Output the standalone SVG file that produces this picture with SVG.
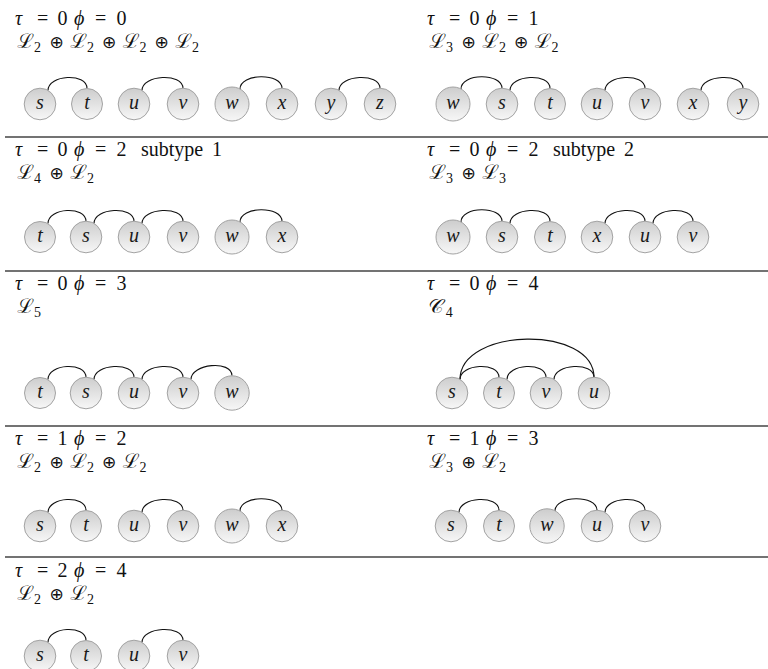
<svg xmlns="http://www.w3.org/2000/svg" width="768" height="669" viewBox="0 0 768 669">
<defs>
<linearGradient id="g" x1="0" y1="0" x2="0" y2="1">
<stop offset="0" stop-color="#cdcdcd"/>
<stop offset="1" stop-color="#f7f7f7"/>
</linearGradient>
</defs>
<style>
.node circle{fill:url(#g);stroke:#a3a3a3;stroke-width:1}
.node text{font-style:italic;font-size:20px;text-anchor:middle;fill:#1a1a1a}
.hdr{font-size:20px;fill:#111}
.it{font-style:italic}
.sub{font-size:14px}
.op{font-size:17px}
.sep{stroke:#444;stroke-width:1.3}
.edge{fill:none;stroke:#111;stroke-width:1.1}
</style>
<rect width="768" height="669" fill="#fff"/>

<g id="separators">
<line class="sep" x1="5" y1="137" x2="768" y2="137"/>
<line class="sep" x1="5" y1="271" x2="768" y2="271"/>
<line class="sep" x1="5" y1="426" x2="768" y2="426"/>
<line class="sep" x1="5" y1="557" x2="768" y2="557"/>
</g>

<g id="labels" font-family="Liberation Serif, serif">
<text class="hdr" y="25"><tspan x="15" class="it">τ</tspan><tspan x="36.9">=</tspan><tspan x="57.5">0</tspan><tspan x="74" class="it">ϕ</tspan><tspan x="94.9">=</tspan><tspan x="116.5">0</tspan></text>
<text class="hdr" y="48"><tspan x="17" font-family="Noto Sans Math, Liberation Serif, serif">ℒ</tspan><tspan class="sub" dy="4">2</tspan><tspan x="49.5" dy="-4" class="op" font-family="DejaVu Sans">⊕</tspan><tspan x="70" font-family="Noto Sans Math, Liberation Serif, serif">ℒ</tspan><tspan class="sub" dy="4">2</tspan><tspan x="102" dy="-4" class="op" font-family="DejaVu Sans">⊕</tspan><tspan x="122.5" font-family="Noto Sans Math, Liberation Serif, serif">ℒ</tspan><tspan class="sub" dy="4">2</tspan><tspan x="154.5" dy="-4" class="op" font-family="DejaVu Sans">⊕</tspan><tspan x="175" font-family="Noto Sans Math, Liberation Serif, serif">ℒ</tspan><tspan class="sub" dy="4">2</tspan></text>
<text class="hdr" y="25"><tspan x="427" class="it">τ</tspan><tspan x="448.9">=</tspan><tspan x="469.5">0</tspan><tspan x="486" class="it">ϕ</tspan><tspan x="506.9">=</tspan><tspan x="528.5">1</tspan></text>
<text class="hdr" y="48"><tspan x="429" font-family="Noto Sans Math, Liberation Serif, serif">ℒ</tspan><tspan class="sub" dy="4">3</tspan><tspan x="461.5" dy="-4" class="op" font-family="DejaVu Sans">⊕</tspan><tspan x="482" font-family="Noto Sans Math, Liberation Serif, serif">ℒ</tspan><tspan class="sub" dy="4">2</tspan><tspan x="514" dy="-4" class="op" font-family="DejaVu Sans">⊕</tspan><tspan x="534.5" font-family="Noto Sans Math, Liberation Serif, serif">ℒ</tspan><tspan class="sub" dy="4">2</tspan></text>

<text class="hdr" y="156"><tspan x="15" class="it">τ</tspan><tspan x="36.9">=</tspan><tspan x="57.5">0</tspan><tspan x="74" class="it">ϕ</tspan><tspan x="94.9">=</tspan><tspan x="116.5">2</tspan><tspan x="141">subtype</tspan><tspan x="212">1</tspan></text>
<text class="hdr" y="179"><tspan x="17" font-family="Noto Sans Math, Liberation Serif, serif">ℒ</tspan><tspan class="sub" dy="4">4</tspan><tspan x="49.5" dy="-4" class="op" font-family="DejaVu Sans">⊕</tspan><tspan x="70" font-family="Noto Sans Math, Liberation Serif, serif">ℒ</tspan><tspan class="sub" dy="4">2</tspan></text>
<text class="hdr" y="156"><tspan x="427" class="it">τ</tspan><tspan x="448.9">=</tspan><tspan x="469.5">0</tspan><tspan x="486" class="it">ϕ</tspan><tspan x="506.9">=</tspan><tspan x="528.5">2</tspan><tspan x="553">subtype</tspan><tspan x="624">2</tspan></text>
<text class="hdr" y="179"><tspan x="429" font-family="Noto Sans Math, Liberation Serif, serif">ℒ</tspan><tspan class="sub" dy="4">3</tspan><tspan x="461.5" dy="-4" class="op" font-family="DejaVu Sans">⊕</tspan><tspan x="482" font-family="Noto Sans Math, Liberation Serif, serif">ℒ</tspan><tspan class="sub" dy="4">3</tspan></text>

<text class="hdr" y="290"><tspan x="15" class="it">τ</tspan><tspan x="36.9">=</tspan><tspan x="57.5">0</tspan><tspan x="74" class="it">ϕ</tspan><tspan x="94.9">=</tspan><tspan x="116.5">3</tspan></text>
<text class="hdr" y="313"><tspan x="17" font-family="Noto Sans Math, Liberation Serif, serif">ℒ</tspan><tspan class="sub" dy="4">5</tspan></text>
<text class="hdr" y="290"><tspan x="427" class="it">τ</tspan><tspan x="448.9">=</tspan><tspan x="469.5">0</tspan><tspan x="486" class="it">ϕ</tspan><tspan x="506.9">=</tspan><tspan x="528.5">4</tspan></text>
<text class="hdr" y="313"><tspan x="429" font-family="Noto Sans Math, Liberation Serif, serif">𝒞</tspan><tspan class="sub" dy="4">4</tspan></text>

<text class="hdr" y="445"><tspan x="15" class="it">τ</tspan><tspan x="36.9">=</tspan><tspan x="57.5">1</tspan><tspan x="74" class="it">ϕ</tspan><tspan x="94.9">=</tspan><tspan x="116.5">2</tspan></text>
<text class="hdr" y="468"><tspan x="17" font-family="Noto Sans Math, Liberation Serif, serif">ℒ</tspan><tspan class="sub" dy="4">2</tspan><tspan x="49.5" dy="-4" class="op" font-family="DejaVu Sans">⊕</tspan><tspan x="70" font-family="Noto Sans Math, Liberation Serif, serif">ℒ</tspan><tspan class="sub" dy="4">2</tspan><tspan x="102" dy="-4" class="op" font-family="DejaVu Sans">⊕</tspan><tspan x="122.5" font-family="Noto Sans Math, Liberation Serif, serif">ℒ</tspan><tspan class="sub" dy="4">2</tspan></text>
<text class="hdr" y="445"><tspan x="427" class="it">τ</tspan><tspan x="448.9">=</tspan><tspan x="469.5">1</tspan><tspan x="486" class="it">ϕ</tspan><tspan x="506.9">=</tspan><tspan x="528.5">3</tspan></text>
<text class="hdr" y="468"><tspan x="429" font-family="Noto Sans Math, Liberation Serif, serif">ℒ</tspan><tspan class="sub" dy="4">3</tspan><tspan x="461.5" dy="-4" class="op" font-family="DejaVu Sans">⊕</tspan><tspan x="482" font-family="Noto Sans Math, Liberation Serif, serif">ℒ</tspan><tspan class="sub" dy="4">2</tspan></text>

<text class="hdr" y="577"><tspan x="15" class="it">τ</tspan><tspan x="36.9">=</tspan><tspan x="57.5">2</tspan><tspan x="74" class="it">ϕ</tspan><tspan x="94.9">=</tspan><tspan x="116.5">4</tspan></text>
<text class="hdr" y="600"><tspan x="17" font-family="Noto Sans Math, Liberation Serif, serif">ℒ</tspan><tspan class="sub" dy="4">2</tspan><tspan x="49.5" dy="-4" class="op" font-family="DejaVu Sans">⊕</tspan><tspan x="70" font-family="Noto Sans Math, Liberation Serif, serif">ℒ</tspan><tspan class="sub" dy="4">2</tspan></text>
</g>

<g id="connectors">
<path class="edge" d="M48,90.5 C48,74.5 87,72.5 87,88.5"/>
<path class="edge" d="M142,90.5 C142,74.5 183,72.5 183,88.5"/>
<path class="edge" d="M240,89 C240,73 282,72.5 282,88.5"/>
<path class="edge" d="M339,90.5 C339,74.5 380,72.5 380,88.5"/>
<path class="edge" d="M461,89 C461,73 502,72.5 502,88.5"/>
<path class="edge" d="M510,90.5 C510,74.5 550,72.5 550,88.5"/>
<path class="edge" d="M605,90.5 C605,74.5 645,72.5 645,88.5"/>
<path class="edge" d="M701,90.5 C701,74.5 743,72.5 743,88.5"/>

<path class="edge" d="M48,223.5 C48,207.5 86,205.5 86,221.5"/>
<path class="edge" d="M94,223.5 C94,207.5 134,205.5 134,221.5"/>
<path class="edge" d="M142,223.5 C142,207.5 183,205.5 183,221.5"/>
<path class="edge" d="M240,222 C240,206 282,205.5 282,221.5"/>
<path class="edge" d="M461,222 C461,206 502,205.5 502,221.5"/>
<path class="edge" d="M510,223.5 C510,207.5 550,205.5 550,221.5"/>
<path class="edge" d="M605,223.5 C605,207.5 645,205.5 645,221.5"/>
<path class="edge" d="M653,223.5 C653,207.5 693,205.5 693,221.5"/>

<path class="edge" d="M48,379.5 C48,363.5 86,361.5 86,377.5"/>
<path class="edge" d="M94,379.5 C94,363.5 134,361.5 134,377.5"/>
<path class="edge" d="M142,379.5 C142,363.5 183,361.5 183,377.5"/>
<path class="edge" d="M191,379.5 C191,363.5 232,359.8 232,375.8"/>
<path class="edge" d="M460,379.5 C460,363.5 499,361.5 499,377.5"/>
<path class="edge" d="M507,379.5 C507,363.5 546,361.5 546,377.5"/>
<path class="edge" d="M554,379.5 C554,363.5 594,361.5 594,377.5"/>
<path class="edge" d="M460,379.5 C460,327 594,325 594,377.5"/>

<path class="edge" d="M48,512.5 C48,496.5 86,494.5 86,510.5"/>
<path class="edge" d="M142,512.5 C142,496.5 183,494.5 183,510.5"/>
<path class="edge" d="M240,511 C240,495 282,494.5 282,510.5"/>
<path class="edge" d="M459,512.5 C459,496.5 499,494.5 499,510.5"/>
<path class="edge" d="M555,511 C555,495 597,494.5 597,510.5"/>
<path class="edge" d="M605,512.5 C605,496.5 645,494.5 645,510.5"/>

<path class="edge" d="M48,642.5 C48,626.5 86,624.5 86,640.5"/>
<path class="edge" d="M142,642.5 C142,626.5 183,624.5 183,640.5"/>
</g>

<g id="nodes" font-family="Liberation Serif, serif">
<g id="r1a-s" class="node"><circle cx="40" cy="104" r="15.8"/><text x="40" y="109">s</text></g>
<g id="r1a-t" class="node"><circle cx="87" cy="104" r="15.5"/><text x="87" y="109">t</text></g>
<g id="r1a-u" class="node"><circle cx="134" cy="104" r="15.8"/><text x="134" y="109">u</text></g>
<g id="r1a-v" class="node"><circle cx="183" cy="104" r="15.8"/><text x="183" y="109">v</text></g>
<g id="r1a-w" class="node"><circle cx="232" cy="104" r="17"/><text x="232" y="109">w</text></g>
<g id="r1a-x" class="node"><circle cx="282" cy="104" r="15.8"/><text x="282" y="109">x</text></g>
<g id="r1a-y" class="node"><circle cx="331" cy="104" r="15.8"/><text x="331" y="109">y</text></g>
<g id="r1a-z" class="node"><circle cx="380" cy="104" r="15.8"/><text x="380" y="109">z</text></g>

<g id="r1b-w" class="node"><circle cx="453" cy="104" r="17"/><text x="453" y="109">w</text></g>
<g id="r1b-s" class="node"><circle cx="502" cy="104" r="15.8"/><text x="502" y="109">s</text></g>
<g id="r1b-t" class="node"><circle cx="550" cy="104" r="15.5"/><text x="550" y="109">t</text></g>
<g id="r1b-u" class="node"><circle cx="597" cy="104" r="15.8"/><text x="597" y="109">u</text></g>
<g id="r1b-v" class="node"><circle cx="645" cy="104" r="15.8"/><text x="645" y="109">v</text></g>
<g id="r1b-x" class="node"><circle cx="693" cy="104" r="15.8"/><text x="693" y="109">x</text></g>
<g id="r1b-y" class="node"><circle cx="743" cy="104" r="15.8"/><text x="743" y="109">y</text></g>

<g id="r2a-t" class="node"><circle cx="40" cy="237" r="15.5"/><text x="40" y="242">t</text></g>
<g id="r2a-s" class="node"><circle cx="86" cy="237" r="15.8"/><text x="86" y="242">s</text></g>
<g id="r2a-u" class="node"><circle cx="134" cy="237" r="15.8"/><text x="134" y="242">u</text></g>
<g id="r2a-v" class="node"><circle cx="183" cy="237" r="15.8"/><text x="183" y="242">v</text></g>
<g id="r2a-w" class="node"><circle cx="232" cy="237" r="17"/><text x="232" y="242">w</text></g>
<g id="r2a-x" class="node"><circle cx="282" cy="237" r="15.8"/><text x="282" y="242">x</text></g>

<g id="r2b-w" class="node"><circle cx="453" cy="237" r="17"/><text x="453" y="242">w</text></g>
<g id="r2b-s" class="node"><circle cx="502" cy="237" r="15.8"/><text x="502" y="242">s</text></g>
<g id="r2b-t" class="node"><circle cx="550" cy="237" r="15.5"/><text x="550" y="242">t</text></g>
<g id="r2b-x" class="node"><circle cx="597" cy="237" r="15.8"/><text x="597" y="242">x</text></g>
<g id="r2b-u" class="node"><circle cx="645" cy="237" r="15.8"/><text x="645" y="242">u</text></g>
<g id="r2b-v" class="node"><circle cx="693" cy="237" r="15.8"/><text x="693" y="242">v</text></g>

<g id="r3a-t" class="node"><circle cx="40" cy="393" r="15.5"/><text x="40" y="398">t</text></g>
<g id="r3a-s" class="node"><circle cx="86" cy="393" r="15.8"/><text x="86" y="398">s</text></g>
<g id="r3a-u" class="node"><circle cx="134" cy="393" r="15.8"/><text x="134" y="398">u</text></g>
<g id="r3a-v" class="node"><circle cx="183" cy="393" r="15.8"/><text x="183" y="398">v</text></g>
<g id="r3a-w" class="node"><circle cx="232" cy="393" r="17.2"/><text x="232" y="398">w</text></g>

<g id="r3b-s" class="node"><circle cx="452" cy="393" r="15.8"/><text x="452" y="398">s</text></g>
<g id="r3b-t" class="node"><circle cx="499" cy="393" r="15.5"/><text x="499" y="398">t</text></g>
<g id="r3b-v" class="node"><circle cx="546" cy="393" r="15.8"/><text x="546" y="398">v</text></g>
<g id="r3b-u" class="node"><circle cx="594" cy="393" r="15.8"/><text x="594" y="398">u</text></g>

<g id="r4a-s" class="node"><circle cx="40" cy="526" r="15.8"/><text x="40" y="531">s</text></g>
<g id="r4a-t" class="node"><circle cx="86" cy="526" r="15.5"/><text x="86" y="531">t</text></g>
<g id="r4a-u" class="node"><circle cx="134" cy="526" r="15.8"/><text x="134" y="531">u</text></g>
<g id="r4a-v" class="node"><circle cx="183" cy="526" r="15.8"/><text x="183" y="531">v</text></g>
<g id="r4a-w" class="node"><circle cx="232" cy="526" r="17"/><text x="232" y="531">w</text></g>
<g id="r4a-x" class="node"><circle cx="282" cy="526" r="15.8"/><text x="282" y="531">x</text></g>

<g id="r4b-s" class="node"><circle cx="451" cy="526" r="15.8"/><text x="451" y="531">s</text></g>
<g id="r4b-t" class="node"><circle cx="499" cy="526" r="15.5"/><text x="499" y="531">t</text></g>
<g id="r4b-w" class="node"><circle cx="547" cy="526" r="17.2"/><text x="547" y="531">w</text></g>
<g id="r4b-u" class="node"><circle cx="597" cy="526" r="15.8"/><text x="597" y="531">u</text></g>
<g id="r4b-v" class="node"><circle cx="645" cy="526" r="15.8"/><text x="645" y="531">v</text></g>

<g id="r5a-s" class="node"><circle cx="40" cy="656" r="15.8"/><text x="40" y="661">s</text></g>
<g id="r5a-t" class="node"><circle cx="86" cy="656" r="15.5"/><text x="86" y="661">t</text></g>
<g id="r5a-u" class="node"><circle cx="134" cy="656" r="15.8"/><text x="134" y="661">u</text></g>
<g id="r5a-v" class="node"><circle cx="183" cy="656" r="15.8"/><text x="183" y="661">v</text></g>
</g>
</svg>
